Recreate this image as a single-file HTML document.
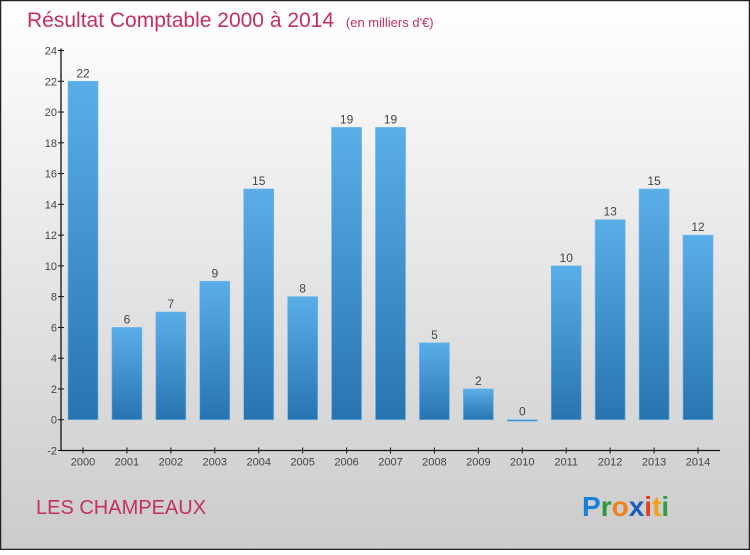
<!DOCTYPE html>
<html><head><meta charset="utf-8"><style>
html,body{margin:0;padding:0}
body{width:750px;height:550px;overflow:hidden;font-family:"Liberation Sans",sans-serif}
</style></head><body>
<svg width="750" height="550" xmlns="http://www.w3.org/2000/svg" id="svg">
<defs>
<linearGradient id="bg" x1="0" y1="0" x2="0" y2="1"><stop offset="0" stop-color="#ffffff"/><stop offset="1" stop-color="#cbcbcb"/></linearGradient>
<linearGradient id="bar" x1="0" y1="0" x2="0" y2="1"><stop offset="0" stop-color="#5aaee8"/><stop offset="1" stop-color="#2874b0"/></linearGradient>
</defs>
<rect x="0.5" y="0.5" width="749" height="549" fill="url(#bg)" stroke="#222" stroke-width="1.5"/>
<text x="27" y="27" font-size="21" fill="#c4305e">Résultat Comptable 2000 à 2014 <tspan font-size="13" dx="6">(en milliers d'€)</tspan></text>
<text x="36" y="514" font-size="20" fill="#c4305e">LES CHAMPEAUX</text>
<g font-size="28" font-weight="bold" font-family="'Liberation Sans',sans-serif">
<text x="582" y="516"><tspan fill="#1a7fd6">P</tspan><tspan fill="#2a9a3a">r</tspan><tspan fill="#f08020">o</tspan><tspan fill="#1a5fc0">x</tspan><tspan fill="#e04020">i</tspan><tspan fill="#f0a020">t</tspan><tspan fill="#30a040">i</tspan></text>
</g>
<g id="plot"></g>
</svg>
<script>
const categories=["2000","2001","2002","2003","2004","2005","2006","2007","2008","2009","2010","2011","2012","2013","2014"];
const values=[22,6,7,9,15,8,19,19,5,2,0,10,13,15,12];
const yTicks=[-2,0,2,4,6,8,10,12,14,16,18,20,22,24];
const NS="http://www.w3.org/2000/svg";
const plotG=document.getElementById('plot');
const yMin=-2,yMax=24,plotTop=50.5,plotBot=450.5,axX0=61,axX1=720;
const yS=v=>plotBot-(v-yMin)/(yMax-yMin)*(plotBot-plotTop);
const stepX=(698-83)/(categories.length-1);
const xc=i=>83+i*stepX;
function mk(t,a){const e=document.createElementNS(NS,t);for(const k in a)e.setAttribute(k,a[k]);plotG.appendChild(e);return e;}
const ya=mk('line',{x1:axX0,y1:plotTop-2,x2:axX0,y2:plotBot,stroke:'#111','stroke-width':1.3});


const xa=mk('line',{x1:axX0,y1:plotBot,x2:axX1,y2:plotBot,stroke:'#111','stroke-width':1.3});


yTicks.forEach(v=>{
 mk('line',{x1:axX0-3,y1:yS(v),x2:axX0+3,y2:yS(v),stroke:'#111'});
 const t=mk('text',{x:axX0-4,y:yS(v)+4,'text-anchor':'end','font-size':11,fill:'#444'});
 t.textContent=v;
 
 
});
categories.forEach((c,i)=>{
 const x=xc(i),v=values[i];
 mk('line',{x1:x,y1:plotBot-3,x2:x,y2:plotBot+3,stroke:'#111'});
 const t=mk('text',{x:x,y:plotBot+15,'text-anchor':'middle','font-size':11,fill:'#444'});
 t.textContent=c;
 
 
 const yt=yS(Math.max(v,0)),yb=yS(Math.min(v,0));
 const r=mk('rect',{x:x-15,y:yt,width:30,height:Math.max(yb-yt,1.5),fill:'url(#bar)',stroke:'#6ab6ec','stroke-width':0.6});
 
 
 const l=mk('text',{x:x,y:yt-4,'text-anchor':'middle','font-size':12,fill:'#444'});
 l.textContent=v;
 
 
});
</script>
</body></html>
